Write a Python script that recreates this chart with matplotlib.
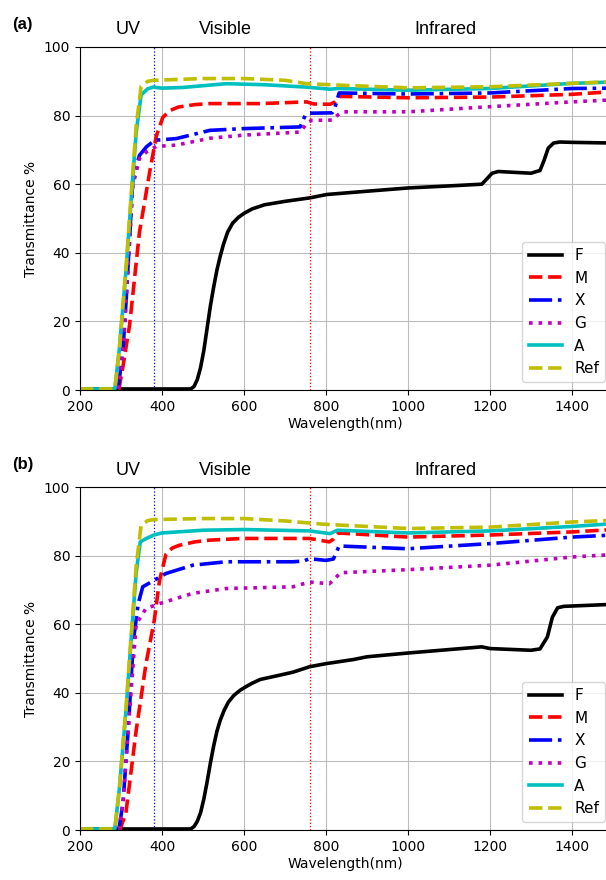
import numpy as np
import matplotlib
matplotlib.use("Agg")
import matplotlib.pyplot as plt

# ---- panel (a) data: (wavelength nm, transmittance %) ----
a_F_wl = [200, 470, 478, 486, 494, 502, 510, 518, 526, 534, 542, 550, 560, 572, 586, 600, 620, 650,
          700, 760, 802, 884, 1000, 1100, 1180, 1192, 1205, 1220, 1300, 1322, 1332, 1342, 1355,
          1370, 1400, 1500]
a_F_T = [0.3, 0.3, 1, 3, 6.5, 11.5, 18, 24.5, 30, 35, 39, 42.5, 46, 48.6, 50.3, 51.5, 52.8, 54,
         55, 56, 57, 57.8, 58.9, 59.5, 60, 61.5, 63.2, 63.7, 63.2, 64, 67, 70.5, 72,
         72.3, 72.2, 72]

a_M_wl = [200, 295, 305, 321, 345, 370, 386, 402, 420, 440, 480, 517, 639, 753, 770, 810, 822, 835,
          1000, 1200, 1400, 1500]
a_M_T = [0.3, 0.3, 7, 19, 46, 63.6, 74, 79.5, 81.5, 82.5, 83.2, 83.5, 83.5, 84, 83.4, 83.3, 84, 85.6,
         85.2, 85.4, 86.2, 87]

a_X_wl = [200, 293, 305, 313, 329, 345, 362, 382, 435, 517, 598, 737, 749, 760, 815, 822, 832,
          1000, 1200, 1400, 1500]
a_X_T = [0.3, 0.3, 12, 27, 61.6, 68.4, 70.9, 72.8, 73.3, 75.7, 76.2, 76.7, 80, 80.7, 80.8, 82.5, 86.6,
         86.3, 86.6, 87.9, 88]

a_G_wl = [200, 293, 305, 313, 329, 345, 362, 386, 435, 517, 598, 737, 755, 765, 815, 830, 840,
          1000, 1200, 1400, 1500]
a_G_T = [0.3, 0.3, 12, 27, 59.7, 67.5, 69.4, 71, 71.4, 73.4, 74.3, 75.2, 78, 78.6, 78.7, 80.3, 81.1,
         81.1, 82.6, 84, 84.6]

a_A_wl = [200, 285, 296, 313, 325, 337, 349, 365, 378, 400, 450, 557, 650, 753, 810, 830,
          1000, 1200, 1400, 1500]
a_A_T = [0.3, 0.3, 12, 36, 56, 75, 86, 87.8, 88.3, 88, 88.2, 89.3, 89, 88.3, 87.7, 87.9,
         87.4, 87.9, 89.4, 89.8]

a_R_wl = [200, 285, 296, 313, 325, 337, 349, 365, 380, 500, 600, 700, 753, 850, 1000, 1200, 1400, 1500]
a_R_T = [0.3, 0.3, 12, 37, 57, 77, 88.5, 90, 90.3, 90.8, 90.8, 90.3, 89.3, 88.8, 88.1, 88.4, 89.4, 89.9]

# ---- panel (b) data ----
b_F_wl = [200, 470, 478, 486, 494, 502, 510, 518, 526, 534, 542, 552, 562, 575, 590, 605, 620, 640,
          678, 719, 760, 800, 867, 900, 1000, 1100, 1180, 1200, 1300, 1322, 1340, 1352, 1365,
          1380, 1400, 1500]
b_F_T = [0.3, 0.3, 1, 2.5, 5, 9, 14, 19.5, 24.5, 28.8, 32, 35, 37.3, 39.2, 40.7, 41.8, 42.8, 43.9,
         44.9, 46, 47.6, 48.5, 49.7, 50.5, 51.6, 52.6, 53.4, 52.9, 52.4, 52.8, 56.3, 62, 64.8,
         65.2, 65.3, 65.8]

b_M_wl = [200, 298, 312, 337, 361, 381, 394, 410, 425, 442, 480, 516, 597, 760, 808, 818, 830,
          1000, 1200, 1400, 1500]
b_M_T = [0.3, 0.3, 5, 29, 48.5, 61, 72.8, 80.5, 82.2, 83, 84, 84.5, 85, 85, 84, 84.8, 86.6,
         85.4, 86, 86.9, 87.6]

b_X_wl = [200, 295, 305, 318, 330, 342, 353, 381, 410, 475, 556, 719, 745, 760, 800, 818, 832,
          1000, 1200, 1400, 1500]
b_X_T = [0.3, 0.3, 8, 30, 55, 66, 70.9, 72.8, 74.8, 77.2, 78.2, 78.2, 78.4, 79.1, 78.6, 79, 82.8,
         82, 83.5, 85.4, 86]

b_G_wl = [200, 295, 305, 318, 337, 361, 394, 475, 556, 719, 760, 808, 818, 835, 1000, 1200, 1400, 1500]
b_G_T = [0.3, 0.3, 8, 30, 60, 64.6, 66, 69, 70.4, 70.9, 72.3, 71.8, 72.8, 75, 75.9, 77.2, 79.6, 80.3]

b_A_wl = [200, 285, 296, 313, 325, 337, 347, 362, 380, 400, 500, 600, 760, 810, 828,
          1000, 1200, 1400, 1500]
b_A_T = [0.3, 0.3, 12, 36, 56, 75, 84, 85, 86, 86.6, 87.4, 87.6, 87.2, 86.4, 87.4,
         86.6, 87.2, 88.5, 89.3]

b_R_wl = [200, 285, 296, 313, 325, 337, 349, 365, 380, 500, 600, 700, 760, 800, 1000, 1200, 1400, 1500]
b_R_T = [0.3, 0.3, 12, 37, 57, 77, 88.8, 90.2, 90.5, 90.8, 90.8, 90.1, 89.5, 89.1, 87.9, 88.3, 89.8, 90.3]

labels = ["F", "M", "X", "G", "A", "Ref"]
colors = ["k", "r", "b", "m", "c", "y"]
styles = ["-", "--", "-.", ":", "-", "--"]

panels = [
    ("(a)", [(a_F_wl, a_F_T), (a_M_wl, a_M_T), (a_X_wl, a_X_T),
             (a_G_wl, a_G_T), (a_A_wl, a_A_T), (a_R_wl, a_R_T)]),
    ("(b)", [(b_F_wl, b_F_T), (b_M_wl, b_M_T), (b_X_wl, b_X_T),
             (b_G_wl, b_G_T), (b_A_wl, b_A_T), (b_R_wl, b_R_T)]),
]

W, H = 606, 880
fig = plt.figure(figsize=(W / 100, H / 100), dpi=100)

head_font = ["Liberation Sans Narrow", "Liberation Sans", "DejaVu Sans"]

# pixel boxes of the two axes: left, top, bottom (right runs past the image edge)
boxes = [(80, 47, 390), (80, 487, 830)]
ax_width_px = 533

for (tag, series), (left, top, bottom) in zip(panels, boxes):
    ax = fig.add_axes([left / W, 1 - bottom / H, ax_width_px / W, (bottom - top) / H])
    ax.grid(True, color="#bcbcbc", lw=0.8)
    ax.set_axisbelow(True)
    ax.axvline(380, color="b", ls=":", lw=0.9)
    ax.axvline(760, color="r", ls=":", lw=0.9)
    for (wl, t), lab, col, ls in zip(series, labels, colors, styles):
        ax.plot(wl, t, ls=ls, color=col, lw=2.6, label=lab)
    ax.set_xlim(200, 1500)
    ax.set_ylim(0, 100)
    ax.set_xticks(np.arange(200, 1500, 200))
    ax.set_yticks(np.arange(0, 101, 20))
    ax.tick_params(labelsize=10)
    ax.set_xlabel("Wavelength(nm)", fontsize=10)
    ax.set_ylabel("Transmittance %", fontsize=10)
    ax.xaxis.set_label_coords((345 - left) / ax_width_px, -0.08)
    ax.legend(loc="lower right", fontsize=11, handlelength=2.2, framealpha=0.8)

    ty = top - 17
    fig.text(12 / W, 1 - (ty - 6) / H, tag, fontsize=12, fontweight="bold",
             family=head_font, va="center")
    fig.text(128 / W, 1 - ty / H, "UV", fontsize=13, family=head_font, ha="center", va="center")
    fig.text(225 / W, 1 - ty / H, "Visible", fontsize=13, family=head_font, ha="center", va="center")
    fig.text(445 / W, 1 - ty / H, "Infrared", fontsize=13, family=head_font, ha="center", va="center")

fig.savefig("out.png", dpi=100)
